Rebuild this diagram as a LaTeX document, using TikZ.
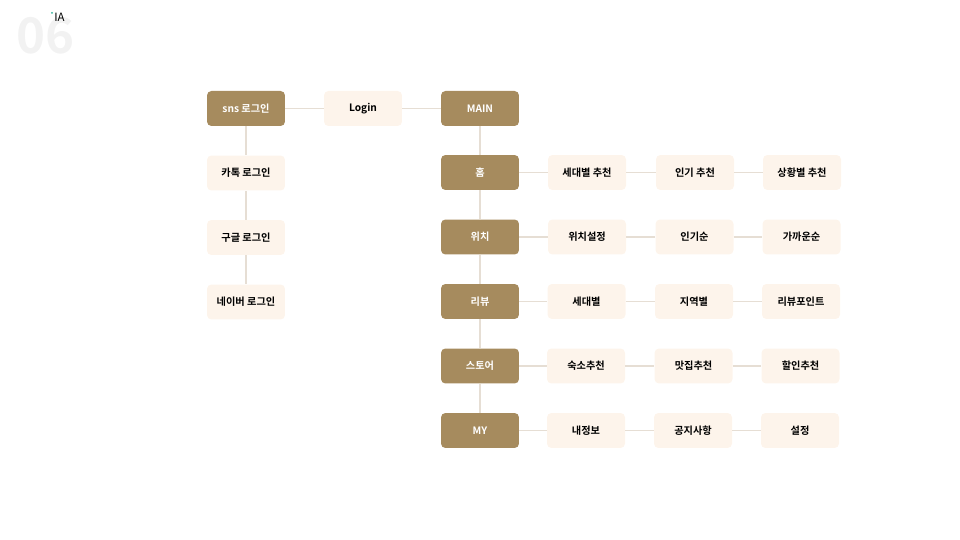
\documentclass[tikz,border=0pt]{standalone}
\usepackage{fontspec}
\setmainfont{Noto Sans CJK KR}[BoldFont={* Bold}]
\usetikzlibrary{positioning}
\definecolor{darkbrown}{HTML}{A68B5E}
\definecolor{lightcream}{HTML}{FDF4EB}
\definecolor{linkgray}{HTML}{E6DED4}
\definecolor{dotteal}{HTML}{2BB39A}
\tikzset{darkbox/.style={rounded corners=2.5, minimum width=1.56cm, minimum height=0.7cm, inner sep=0, fill=darkbrown, text=white, font=\bfseries\fontsize{5.8}{7}\selectfont}}
\tikzset{lightbox/.style={darkbox, fill=lightcream, text=black}}
\tikzset{link/.style={draw=linkgray, line width=0.8pt}}

\begin{document}
\begin{tikzpicture}[x=0.02cm, y=-0.02cm]
			\useasboundingbox (0,0) rectangle (960,540);
			\node[anchor=west, text=black!5, font=\bfseries\fontsize{28}{28}\selectfont, inner sep=0] (num) at (16,36){06};
			\node[anchor=west, font=\fontsize{6.5}{7}\selectfont, inner sep=0] (ia) at (54,17.5){IA};
			\fill[dotteal] (52,13) circle (1);
			
			\node[darkbox] (sns) at (246,108.5){sns 로그인};
			\node[lightbox] (login) at (363,108.5){Login};
			\node[darkbox] (main) at (480,108.5){MAIN};
			
			\node[lightbox] (kakao) at (246,173){카톡 로그인};
			\node[lightbox] (google) at (246,237.5){구글 로그인};
			\node[lightbox] (naver) at (246,302){네이버 로그인};
			
			\node[darkbox] (home) at (480,172.5){홈};
			\node[darkbox] (loc) at (480,237){위치};
			\node[darkbox] (review) at (480,301.5){리뷰};
			\node[darkbox] (store) at (480,366){스토어};
			\node[darkbox] (my) at (480,430.5){MY};
			
			\node[lightbox] (home1) at (587,172.5){세대별 추천};
			\node[lightbox] (home2) at (695,172.5){인기 추천};
			\node[lightbox] (home3) at (802,172.5){상황별 추천};
			
			\node[lightbox] (loc1) at (587,237){위치설정};
			\node[lightbox] (loc2) at (694.5,237){인기순};
			\node[lightbox] (loc3) at (801.5,237){가까운순};
			
			\node[lightbox] (review1) at (586.5,301.5){세대별};
			\node[lightbox] (review2) at (694,301.5){지역별};
			\node[lightbox] (review3) at (801,301.5){리뷰포인트};
			
			\node[lightbox] (store1) at (586,366){숙소추천};
			\node[lightbox] (store2) at (693.5,366){맛집추천};
			\node[lightbox] (store3) at (800.5,366){할인추천};
			
			\node[lightbox] (my1) at (586,430.5){내정보};
			\node[lightbox] (my2) at (693,430.5){공지사항};
			\node[lightbox] (my3) at (800,430.5){설정};
			
			\draw[link] (sns) -- (login);
			\draw[link] (login) -- (main);
			\draw[link] (sns) -- (kakao);
			\draw[link] (kakao) -- (google);
			\draw[link] (google) -- (naver);
			
			\draw[link] (main) -- (home);
			\draw[link] (home) -- (loc);
			\draw[link] (loc) -- (review);
			\draw[link] (review) -- (store);
			\draw[link] (store) -- (my);
			
			\draw[link] (home) -- (home1);
			\draw[link] (home1) -- (home2);
			\draw[link] (home2) -- (home3);
			\draw[link] (loc) -- (loc1);
			\draw[link] (loc1) -- (loc2);
			\draw[link] (loc2) -- (loc3);
			\draw[link] (review) -- (review1);
			\draw[link] (review1) -- (review2);
			\draw[link] (review2) -- (review3);
			\draw[link] (store) -- (store1);
			\draw[link] (store1) -- (store2);
			\draw[link] (store2) -- (store3);
			\draw[link] (my) -- (my1);
			\draw[link] (my1) -- (my2);
			\draw[link] (my2) -- (my3);
		\end{tikzpicture}
\end{document}
